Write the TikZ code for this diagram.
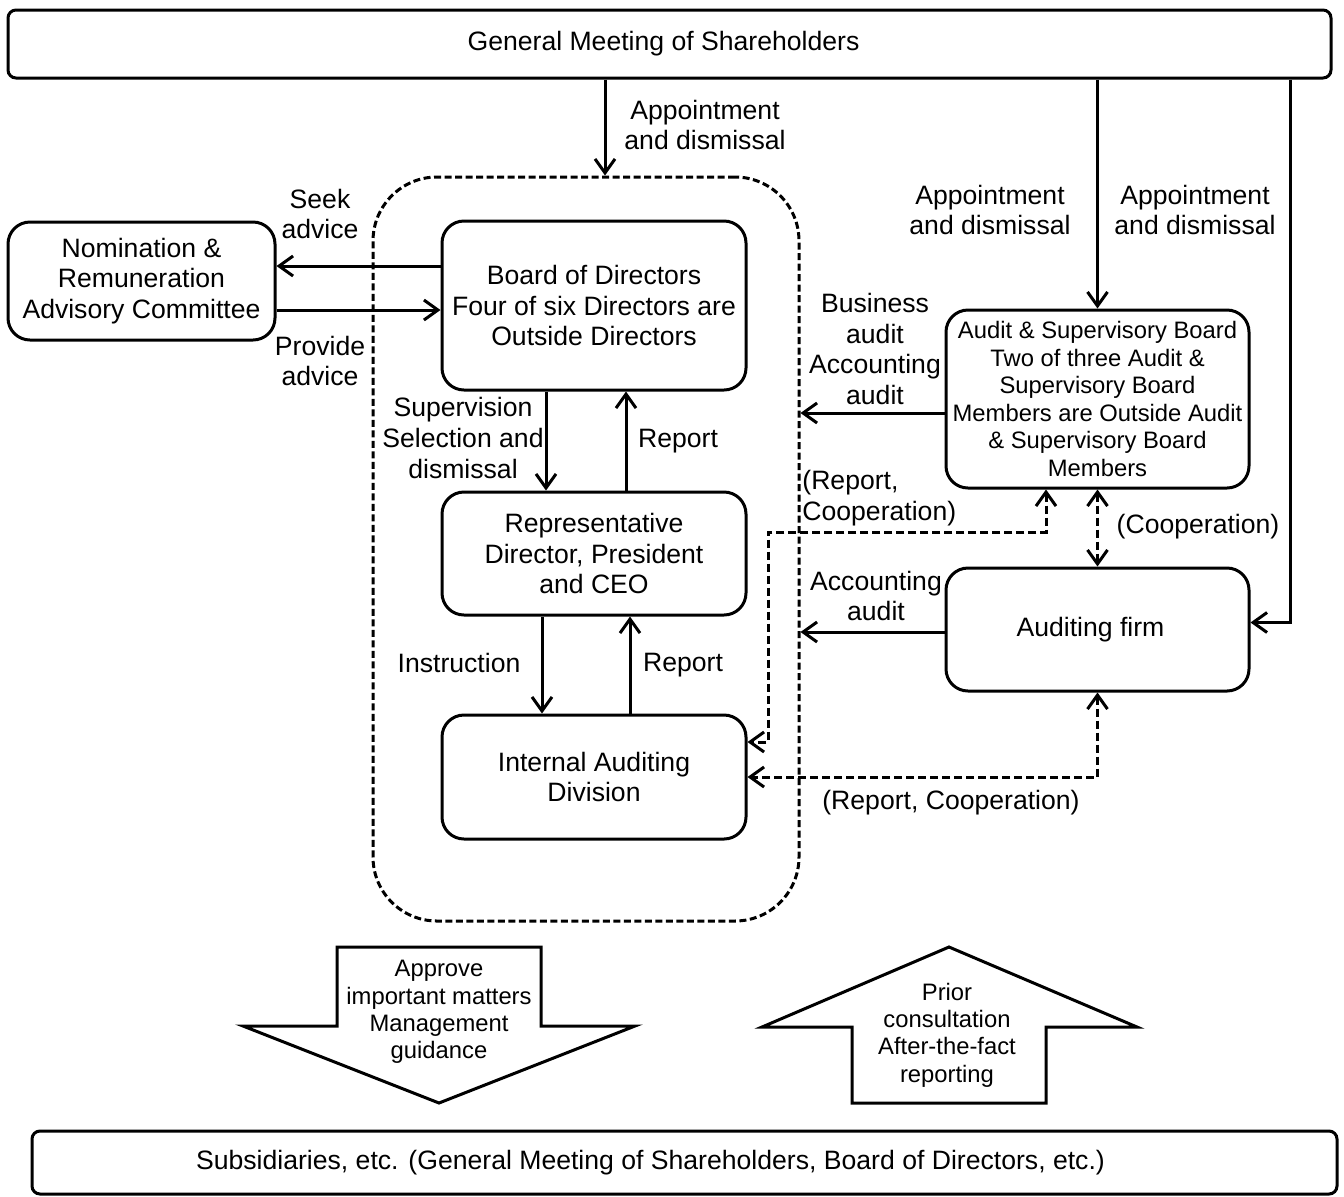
\documentclass[tikz,border=0pt]{standalone}
\usepackage{fontspec}
\setmainfont{Liberation Sans}
\usetikzlibrary{arrows.meta}
\tikzstyle{box}=[draw,line width=1.5pt,rounded corners=11pt,align=center,inner sep=2pt]
\tikzstyle{smallbox}=[box,font=\fontsize{11.9}{13.8}\selectfont]
\tikzstyle{lbl}=[align=center,inner sep=0pt]
\tikzstyle{smalllbl}=[lbl,font=\fontsize{11.9}{13.7}\selectfont]
\tikzstyle{arr}=[line width=1.5pt,-{Straight Barb[length=7pt,width=10pt]}]
\tikzstyle{darr}=[line width=1.5pt,dash pattern=on 4pt off 2pt,{Straight Barb[length=7pt,width=10pt]}-{Straight Barb[length=7pt,width=10pt]}]
\tikzstyle{block}=[line width=1.5pt,line join=miter]

\begin{document}
\begin{tikzpicture}[x=0.5pt,y=-0.5pt,font=\fontsize{13.3}{15.3}\selectfont]
\useasboundingbox (0,0) rectangle (1344,1196);

%boxes
    \node[box,rounded corners=4pt,minimum width=661.5pt,minimum height=34pt] (gms) at (669.5,44) {General Meeting of Shareholders\hspace*{6pt}};
    \node[draw,line width=1.5pt,dash pattern=on 3.5pt off 1.75pt,rounded corners=32pt,minimum width=213pt,minimum height=372pt] (grp) at (586,549) {};
    \node[box,minimum width=133.5pt,minimum height=59pt] (nrac) at (141.5,281) {Nomination \&\\Remuneration\\Advisory Committee};
    \node[box,minimum width=152pt,minimum height=84.5pt] (bod) at (594,305.5) {Board of Directors\\Four of six Directors are\\Outside Directors};
    \node[box,minimum width=152pt,minimum height=61.5pt] (rep) at (594,553.5) {Representative\\Director, President\\and CEO};
    \node[box,minimum width=152pt,minimum height=62pt] (iad) at (594,777) {Internal Auditing\\Division};
    \node[smallbox,minimum width=151.5pt,minimum height=89pt] (asb) at (1097.5,399) {Audit \& Supervisory Board\\Two of three Audit \&\\Supervisory Board\\Members are Outside Audit\\\& Supervisory Board\\Members};
    \node[box,minimum width=151.5pt,minimum height=61.5pt] (af) at (1097.5,629.5) {Auditing firm\hspace*{7pt}};
    \node[box,rounded corners=4pt,minimum width=652.5pt,minimum height=31.5pt] (subs) at (684.5,1162.5) {Subsidiaries, etc. (General Meeting of Shareholders, Board of Directors, etc.)\hspace*{34pt}};

%appointment
    \draw[arr] (gms.south -| 605,0) -- (grp.north -| 605,0);
    \draw[arr] (gms.south -| asb.north) -- (asb.north);
    \draw[arr] (gms.south -| 1290,0) |- ([yshift=3.5pt]af.east);
    \node[lbl] (ap1) at (705,125) {Appointment\\and dismissal};
    \node[lbl] (ap2) at (990,210) {Appointment\\and dismissal};
    \node[lbl] (ap3) at (1195,210) {Appointment\\and dismissal};

%advice
    \draw[arr] (bod.west |- 0,266) -- (nrac.east |- 0,266);
    \draw[arr] (nrac.east |- 0,310) -- (bod.west |- 0,310);
    \node[lbl] (seek) at (320,214) {Seek\\advice};
    \node[lbl] (prov) at (320,361) {Provide\\advice};

%inside the company
    \foreach \source/\dest/\x in {bod/rep/546, rep/iad/542}
        \draw[arr] (\source.south -| \x,0) -- (\dest.north -| \x,0);
    \foreach \source/\dest/\x in {rep/bod/626, iad/rep/630}
        \draw[arr] (\source.north -| \x,0) -- (\dest.south -| \x,0);
    \node[lbl] (sup) at (463,438) {Supervision\\Selection and\\dismissal};
    \node[lbl] (rep1) at (678,441) {Report};
    \node[lbl] (ins) at (459,663) {Instruction};
    \node[lbl] (rep2) at (683,665) {Report};

%audits
    \draw[arr] (asb.west |- 0,413) -- (grp.east |- 0,413);
    \draw[arr] (af.west |- 0,632) -- (grp.east |- 0,632);
    \node[lbl] (baud) at (875,349) {Business\\audit\\Accounting\\audit};
    \node[lbl] (aaud) at (876,596) {Accounting\\audit};

%cooperation
    \draw[darr] (asb.south) -- (af.north);
    \draw[darr] (asb.south -| 1046,0) |- (768,532) |- (iad.east |- 0,742);
    \draw[darr] (af.south) |- (iad.east |- 0,777);
    \node[lbl] (coop) at (1198,527) {(Cooperation)};
    \node[lbl,align=left,anchor=west] (rc1) at (802,498) {(Report,\\Cooperation)};
    \node[lbl] (rc2) at (951,803) {(Report, Cooperation)};

%subsidiaries
    \draw[block] (337,947) -- (541,947) -- (541,1026) -- (635,1026) -- (439,1103) -- (243,1026) -- (337,1026) -- cycle;
    \draw[block] (852,1103) -- (1046,1103) -- (1046,1027) -- (1137,1027) -- (949,947) -- (762,1027) -- (852,1027) -- cycle;
    \node[smalllbl] (down) at (439,1012) {Approve\\important matters\\Management\\guidance};
    \node[smalllbl] (up) at (947,1035) {Prior\\consultation\\After-the-fact\\reporting};

\end{tikzpicture}
\end{document}
